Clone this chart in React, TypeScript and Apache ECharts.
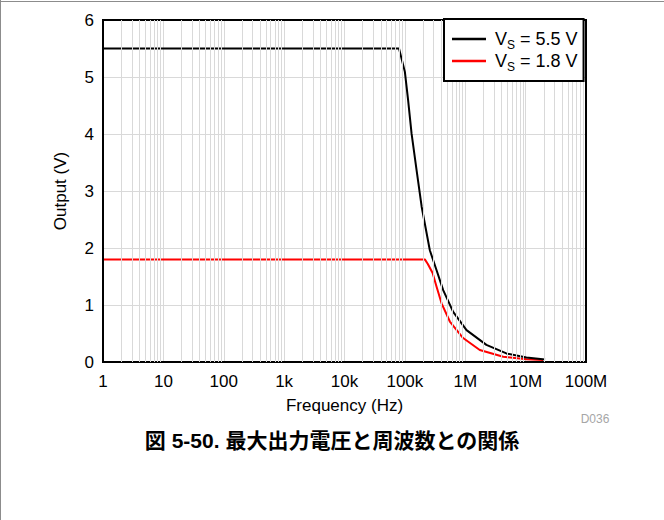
import React, { useEffect, useRef } from "react";
import * as echarts from "echarts";

const xTickLabels = ["1", "10", "100", "1k", "10k", "100k", "1M", "10M", "100M"];
const yTicks = [0, 1, 2, 3, 4, 5, 6];

const seriesNames = ["VS = 5.5 V", "VS = 1.8 V"];
const supplyValues = ["5.5 V", "1.8 V"];
const seriesColors = ["#000000", "#ff0000"];

const freq55 = [1, 80e3, 100e3, 113e3, 129e3, 156e3, 190e3, 259e3, 335e3, 431e3, 631e3, 1.05e6, 2.24e6, 4.8e6, 10.3e6, 21e6];
const out55 = [5.5, 5.5, 5.09, 4.6, 4.01, 3.37, 2.72, 1.96, 1.61, 1.26, 0.88, 0.56, 0.3, 0.15, 0.08, 0.045];

const freq18 = [1, 214e3, 240e3, 288e3, 335e3, 405e3, 556e3, 922e3, 1.74e6, 4.26e6, 10.3e6, 19.5e6];
const out18 = [1.8, 1.8, 1.72, 1.56, 1.32, 1.03, 0.71, 0.42, 0.21, 0.093, 0.047, 0.035];

const minorMultipliers = [2, 3, 4, 5, 6, 7, 8, 9];
const decades = [1, 10, 100, 1e3, 1e4, 1e5, 1e6, 1e7];

const FONT = "'Liberation Sans', Arial, Helvetica, sans-serif";

export default function App() {
  const ref = useRef<HTMLDivElement>(null);
  useEffect(() => {
    if (!ref.current) return;
    const chart = echarts.init(ref.current, undefined, { renderer: "svg" });
    const minorLines: any[] = [];
    decades.forEach((d) => minorMultipliers.forEach((m) => minorLines.push({ xAxis: d * m })));
    const gridColor = "#d9d9d9";
    chart.setOption({
      animation: false,
      backgroundColor: "#ffffff",
      textStyle: { fontFamily: FONT },
      grid: {
        left: 103,
        right: 78,
        top: 20,
        bottom: 158,
        show: true,
        borderColor: "#000",
        borderWidth: 2,
        backgroundColor: "transparent",
        z: 4,
      },
      xAxis: {
        type: "log",
        logBase: 10,
        min: 1,
        max: 1e8,
        name: "Frequency (Hz)",
        nameLocation: "middle",
        nameGap: 35,
        nameTextStyle: { fontSize: 17, color: "#000", fontFamily: FONT },
        axisLine: { show: false },
        axisTick: { show: false },
        axisLabel: {
          fontSize: 17,
          color: "#000",
          margin: 11,
          fontFamily: FONT,
          formatter: (v: number) => xTickLabels[Math.round(Math.log10(v))] ?? "",
        },
        splitLine: { show: true, lineStyle: { color: gridColor, width: 1 } },
      },
      yAxis: {
        type: "value",
        min: 0,
        max: 6,
        interval: 1,
        name: "Output (V)",
        nameLocation: "middle",
        nameGap: 34,
        nameTextStyle: { fontSize: 17, color: "#000", fontFamily: FONT },
        axisLine: { show: false },
        axisTick: { show: false },
        axisLabel: {
          fontSize: 17,
          color: "#000",
          margin: 9,
          fontFamily: FONT,
          formatter: (v: number) => (yTicks.includes(v) ? String(v) : ""),
        },
        splitLine: { show: true, lineStyle: { color: gridColor, width: 1 } },
      },
      legend: {
        left: 444,
        top: 19,
        orient: "vertical",
        data: seriesNames.map((n, i) => ({ name: n, icon: "rect", itemStyle: { color: seriesColors[i] } })),
        backgroundColor: "#fff",
        borderColor: "#000",
        borderWidth: 2,
        borderRadius: 0,
        padding: [10, 6, 8, 8],
        itemGap: 0,
        itemWidth: 34,
        itemHeight: 2.5,
        z: 10,
        formatter: (name: string) => {
          const i = seriesNames.indexOf(name);
          return `{v|V}{s|S}{a| = ${supplyValues[i]}}`;
        },
        textStyle: {
          fontFamily: FONT,
          color: "#000",
          rich: {
            v: { fontSize: 18, lineHeight: 20, fontFamily: FONT, color: "#000", padding: [0, 0, 0, 4] },
            a: { fontSize: 18, lineHeight: 20, fontFamily: FONT, color: "#000" },
            s: { fontSize: 12, lineHeight: 12, fontFamily: FONT, color: "#000", verticalAlign: "top", padding: [10, 0, 0, 0] },
          },
        },
      },
      series: [
        {
          type: "line",
          name: "grid-minor",
          data: [],
          silent: true,
          z: 1,
          markLine: {
            silent: true,
            symbol: "none",
            label: { show: false },
            lineStyle: { color: gridColor, type: "solid", width: 1 },
            data: minorLines,
            animation: false,
          },
        },
        {
          type: "line",
          name: seriesNames[0],
          data: freq55.map((f, i) => [f, out55[i]]),
          showSymbol: false,
          symbol: "none",
          z: 3,
          lineStyle: { color: seriesColors[0], width: 2 },
          itemStyle: { color: seriesColors[0] },
        },
        {
          type: "line",
          name: seriesNames[1],
          data: freq18.map((f, i) => [f, out18[i]]),
          showSymbol: false,
          symbol: "none",
          z: 2,
          lineStyle: { color: seriesColors[1], width: 2 },
          itemStyle: { color: seriesColors[1] },
        },
      ],
      graphic: [
        { type: "line", shape: { x1: 0.5, y1: 0, x2: 0.5, y2: 520 }, style: { stroke: "#8c8c8c", lineWidth: 1 } },
        { type: "line", shape: { x1: 0, y1: 1.5, x2: 664, y2: 1.5 }, style: { stroke: "#8c8c8c", lineWidth: 1 } },
        {
          type: "text",
          x: 595,
          y: 419,
          style: { text: "D036", fontSize: 12, fill: "#a6a6a6", fontFamily: FONT, align: "center", verticalAlign: "middle" },
        },
        {
          type: "text",
          x: 332,
          y: 440,
          style: {
            text: "図 5-50. 最大出力電圧と周波数との関係",
            fontSize: 21,
            fontWeight: "bold",
            fill: "#000",
            fontFamily: "'Liberation Sans', 'Noto Sans CJK JP', sans-serif",
            align: "center",
            verticalAlign: "middle",
          },
        },
      ],
    });
    return () => chart.dispose();
  }, []);
  return <div ref={ref} style={{ position: "absolute", left: 0, top: 0, width: 664, height: 520 }} />;
}
